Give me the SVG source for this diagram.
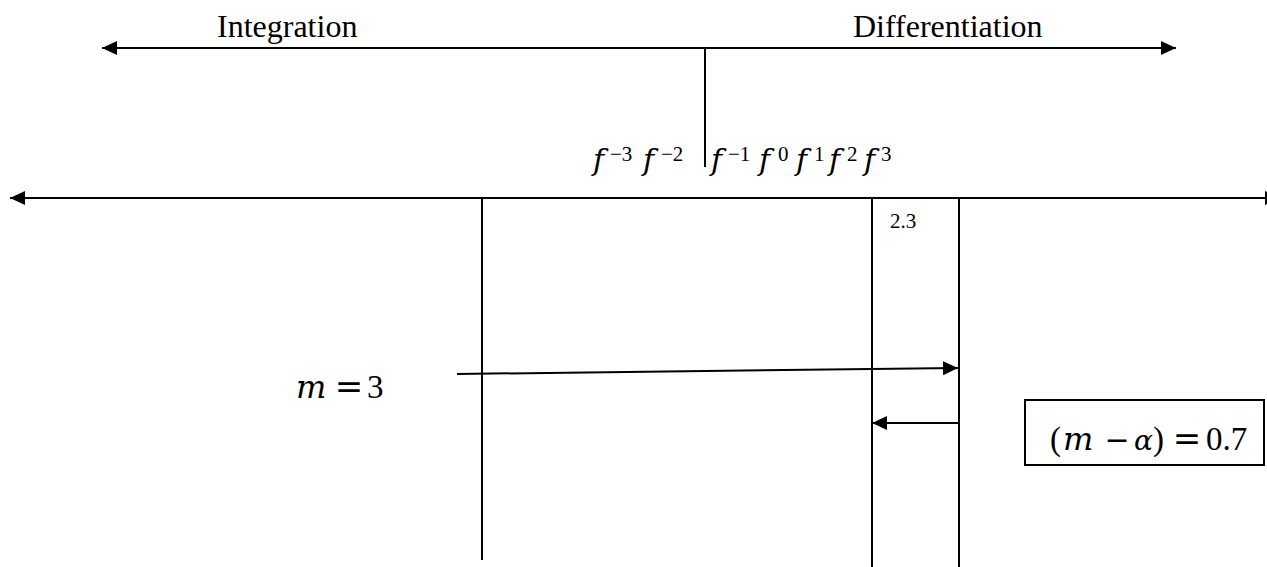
<svg xmlns="http://www.w3.org/2000/svg" width="1267" height="567" viewBox="0 0 1267 567">
  <style>
    .ln { stroke: #000; stroke-width: 2; fill: none; }
    .lbl { font-family: "Liberation Serif", "Times New Roman", serif; fill: #000; }
    .mv { font-family: "DejaVu Serif", "Liberation Serif", serif; font-style: italic; fill: #000; }
    .mo { font-family: "DejaVu Serif", "Liberation Serif", serif; fill: #000; text-anchor: middle; }
  </style>
  <defs>
    <marker id="ah" markerUnits="userSpaceOnUse" markerWidth="16" markerHeight="16" viewBox="0 0 16 16" refX="15" refY="8" orient="auto-start-reverse">
      <path d="M0,1 L15,8 L0,15 Z" fill="#000"/>
    </marker>
  </defs>
  <rect width="1267" height="567" fill="#fff"/>

  <g id="connectors">
    <line class="ln" x1="102" y1="48" x2="1176" y2="48" marker-start="url(#ah)" marker-end="url(#ah)"/>
    <line class="ln" x1="705" y1="48" x2="705" y2="167"/>
    <line class="ln" x1="10" y1="198" x2="1280" y2="198" marker-start="url(#ah)" marker-end="url(#ah)"/>
    <line class="ln" x1="482" y1="198" x2="482" y2="560"/>
    <line class="ln" x1="872" y1="198" x2="872" y2="567"/>
    <line class="ln" x1="959" y1="198" x2="959" y2="567"/>
    <line class="ln" x1="457" y1="374" x2="958" y2="368" marker-end="url(#ah)"/>
    <line class="ln" x1="959" y1="423" x2="872" y2="423" marker-end="url(#ah)"/>
  </g>

  <g id="integration">
    <text class="lbl" x="217" y="37" font-size="32">Integration</text>
  </g>
  <g id="differentiation">
    <text class="lbl" x="853" y="37" font-size="32">Differentiation</text>
  </g>

  <g id="powers">
    <text class="mv" x="593" y="170" font-size="30">f</text>
    <text class="lbl" x="610" y="161" font-size="21">−3</text>
    <text class="mv" x="643" y="170" font-size="30">f</text>
    <text class="lbl" x="661" y="161" font-size="21">−2</text>
    <text class="mv" x="711" y="170" font-size="30">f</text>
    <text class="lbl" x="728" y="161" font-size="21">−1</text>
    <text class="mv" x="759" y="170" font-size="30">f</text>
    <text class="lbl" x="778" y="161" font-size="21">0</text>
    <text class="mv" x="796" y="170" font-size="30">f</text>
    <text class="lbl" x="814" y="161" font-size="21">1</text>
    <text class="mv" x="829" y="170" font-size="30">f</text>
    <text class="lbl" x="847" y="161" font-size="21">2</text>
    <text class="mv" x="864" y="170" font-size="30">f</text>
    <text class="lbl" x="881" y="161" font-size="21">3</text>
  </g>

  <g id="label-2-3">
    <text class="lbl" x="890" y="228" font-size="21">2.3</text>
  </g>

  <g id="m-equals-3">
    <text class="mv" x="296" y="398" font-size="32">m</text>
    <text class="mo" x="349" y="398" font-size="34">=</text>
    <text class="lbl" x="367" y="398" font-size="33">3</text>
  </g>

  <g id="box">
    <rect class="ln" x="1025" y="400" width="239" height="65"/>
    <text class="lbl" x="1050" y="450" font-size="33">(</text>
    <text class="mv" x="1063" y="450" font-size="32">m</text>
    <text class="mo" x="1117" y="450" font-size="30">−</text>
    <text class="mv" x="1134" y="450" font-size="28">α</text>
    <text class="lbl" x="1153" y="450" font-size="33">)</text>
    <text class="mo" x="1187" y="450" font-size="34">=</text>
    <text class="lbl" x="1206" y="450" font-size="33">0.7</text>
  </g>
</svg>
